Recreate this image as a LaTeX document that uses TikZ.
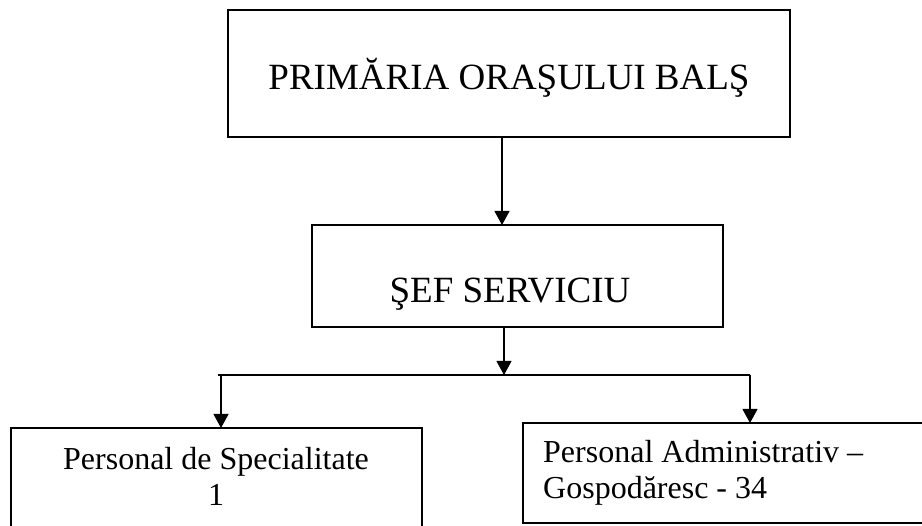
\documentclass[tikz,border=0pt]{standalone}
\usepackage{fontspec}
\setmainfont{Liberation Serif}
\usetikzlibrary{arrows.meta}
\begin{document}
\begin{tikzpicture}
[x=1pt,y=-1pt,
 orgbox/.style={draw,line width=1.5pt},
 link/.style={draw,line width=1.1pt,-{Triangle[length=14pt,width=15pt]}},
 bigtext/.style={font=\fontsize{37}{40}\selectfont,anchor=base,inner sep=0pt},
 smalltext/.style={font=\fontsize{32}{36.5}\selectfont,inner sep=0pt}]
\useasboundingbox (0,0) rectangle (922,526);

% boxes
\draw[orgbox] (228,10) rectangle (790,137);
\node (prim) at (509,90) [bigtext] {PRIMĂRIA ORAŞULUI BALŞ};
\coordinate (primS) at (502,137);

\draw[orgbox] (312,225) rectangle (723,327);
\node (sef) at (510,303) [bigtext] {ŞEF SERVICIU};
\coordinate (sefN) at (502,225);
\coordinate (sefS) at (504,327);

% base of a two-line node = baseline of its last line
\draw[orgbox] (11,428) rectangle (422,535);
\node (spec) at (216,506) [smalltext,align=center,anchor=base] {Personal de Specialitate\\1};
\coordinate (specN) at (221,428);

\draw[orgbox] (523,423) rectangle (935,523);
\node (adm) at (543,499) [smalltext,align=left,anchor=base west] {Personal Administrativ –\\Gospodăresc - 34};
\coordinate (admN) at (750,423);

% connectors
\coordinate (busC) at (504,375);
\coordinate (busW) at (218,375);
\coordinate (busL) at (221,375);
\coordinate (busR) at (750,375);

\draw[link] (primS) -- (sefN);
\draw[link] (sefS) -- (busC);
\draw[line width=1.1pt] (busW) -- (busR);
\draw[link] (busL) -- (specN);
\draw[link] (busR) -- (admN);

\end{tikzpicture}
\end{document}
